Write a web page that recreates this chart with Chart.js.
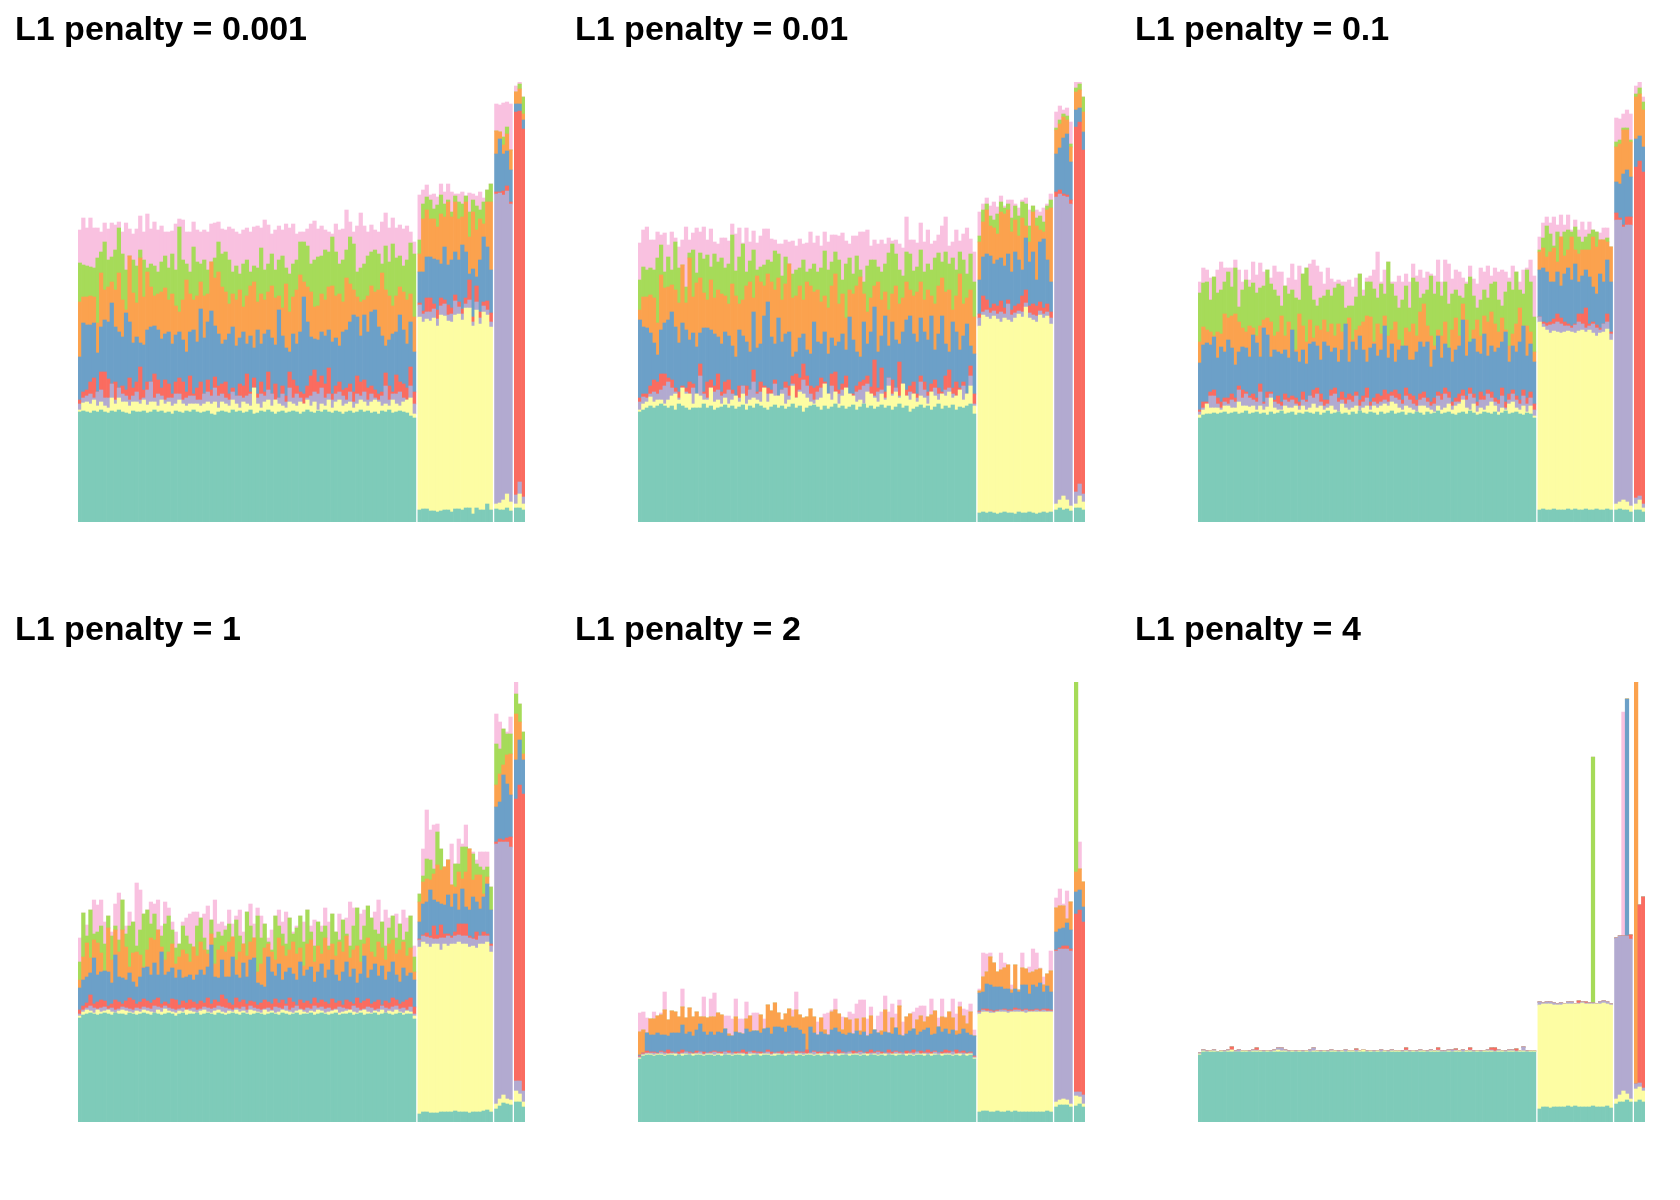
<!DOCTYPE html>
<html>
<head>
<meta charset="utf-8">
<title>L1 penalty</title>
<script src="https://cdn.jsdelivr.net/npm/chart.js@4"></script>
<style>
  body { margin: 0; background: #fff; }
  #grid { display: flex; flex-wrap: wrap; width: 1680px; }
  canvas { display: block; }
</style>
</head>
<body>
<div id="grid"></div>
<script>
const none = (n) => Array(n).fill(null);

const titles = ['L1 penalty = 0.001', 'L1 penalty = 0.01', 'L1 penalty = 0.1', 'L1 penalty = 1', 'L1 penalty = 2', 'L1 penalty = 4'];
const groupSizes = [95, 21, 5, 3];
const layerNames = ['teal', 'yellow', 'purple', 'red', 'blue', 'orange', 'green', 'pink'];
const layerColors = ['#7ECBB9', '#FDFDA3', '#B2AAD0', '#FA6C60', '#6CA0C8', '#FBA24E', '#A6DB59', '#F9C1E0'];

// upper edge of every layer, bar by bar (rows of 20, then the 3 small groups)
const teal1 = [110,111,110,109,111,110,112,110,109,111,110,112,110,109,108,111,110,110,111,109,
110,112,110,111,109,110,108,111,110,109,111,110,112,110,109,110,111,108,107,110,
111,110,109,112,110,111,109,110,112,108,109,111,110,112,110,108,110,111,109,110,
111,110,108,110,112,110,109,111,110,112,110,109,111,110,108,110,111,109,110,112,
110,111,109,110,108,111,110,112,109,110,111,110,109,106,104,
12,13,13,11,11,10,11,12,12,10,13,13,12,14,14,8,14,12,12,18,12,
13,12,12,14,11,
14,14,12];
const yellow1 = [112,119,120,118,122,116,120,116,114,124,118,124,120,120,116,120,120,118,122,117,
120,120,116,122,118,120,116,118,122,118,116,118,118,118,116,118,120,118,120,114,
120,118,116,122,118,114,120,118,116,134,118,114,120,122,116,122,118,116,114,120,
118,116,120,118,122,116,120,112,118,116,122,114,120,122,116,118,120,114,118,122,
120,116,120,122,120,116,118,116,122,118,116,120,122,124,108,
205,200,203,201,204,196,207,206,201,200,207,208,202,214,214,196,212,198,210,207,195,
18,19,22,28,20,
18,28,18];
const purple1 = [118,124,126,128,124,130,132,124,124,138,122,134,128,126,122,126,130,122,124,132,
140,124,128,126,122,124,124,128,128,122,124,126,126,122,122,128,130,126,134,126,
128,124,122,130,126,126,124,126,128,132,124,128,126,132,128,122,124,128,120,134,
124,128,124,118,124,126,130,128,134,124,128,122,128,130,126,122,130,120,128,126,
130,122,128,124,122,126,136,122,128,128,130,124,122,136,118,
217,208,210,210,213,203,216,218,207,208,221,215,208,218,222,200,220,204,216,212,200,
328,329,327,331,318,
27,40,25];
const red1 = [122,130,132,140,144,130,150,150,143,130,140,124,136,132,144,134,140,155,132,140,
130,148,142,134,142,138,128,140,144,140,130,146,128,134,140,118,142,132,145,136,
138,140,128,134,126,138,136,148,130,144,128,140,130,150,122,138,124,136,126,150,
142,136,130,128,136,146,152,140,146,138,154,128,136,140,132,134,138,130,146,140,
142,134,136,132,128,130,149,136,130,147,140,138,134,155,130,
219,211,224,224,218,212,224,222,217,214,227,220,213,224,242,205,236,210,220,221,209,
330,330,331,336,320,
410,411,393];
const blue1 = [165,199,197,197,199,169,195,202,200,219,195,190,185,209,200,179,185,179,177,192,
195,196,192,183,188,190,178,187,190,182,170,190,192,180,213,184,200,211,196,188,
178,182,188,195,176,184,190,178,186,174,192,178,188,192,184,177,212,186,174,170,
188,178,190,225,200,185,183,182,190,186,192,180,184,176,190,192,200,207,205,186,
207,190,210,212,195,186,176,182,188,190,207,192,178,200,170,
250,250,265,265,263,262,258,275,257,262,270,262,277,270,248,253,245,262,285,275,252,
368,383,368,371,352,
418,418,402];
const orange1 = [220,225,225,226,225,199,249,232,235,240,232,249,222,212,266,229,219,264,225,250,
235,226,228,230,234,222,228,216,210,222,242,228,222,226,240,226,228,260,244,250,
235,230,218,228,222,232,215,226,236,240,220,228,222,230,236,224,226,214,238,210,
225,232,247,240,235,230,215,216,228,222,235,236,226,228,220,244,238,232,225,220,
222,226,236,230,232,249,232,226,216,226,235,230,222,228,205,
268,303,312,303,303,295,308,305,320,305,320,303,305,320,285,310,292,303,298,320,320,
391,390,377,388,372,
430,433,408];
const green1 = [259,257,256,255,254,264,270,280,262,265,272,294,268,252,258,262,256,272,262,254,
258,256,250,260,266,254,268,252,295,262,258,250,275,260,258,262,252,256,264,280,
268,270,262,250,256,248,258,262,250,256,254,274,252,258,268,252,262,266,254,248,
258,262,280,280,276,258,262,265,266,272,270,285,270,258,262,272,285,278,250,254,
258,266,270,272,268,258,276,260,278,264,266,256,262,279,268,
282,318,325,322,313,317,327,318,322,310,326,320,318,326,310,322,316,312,320,332,338,
391,390,385,395,372,
430,438,425];
const pink1 = [292,304,294,304,294,294,290,299,293,299,297,300,290,299,293,288,293,306,290,308,
293,300,292,296,290,290,291,298,303,302,290,290,300,292,290,292,290,298,299,300,
293,292,295,293,290,288,292,294,290,295,296,294,302,297,288,292,296,292,298,294,
298,288,290,290,293,298,301,293,296,292,290,288,298,292,293,312,300,290,296,309,
296,290,297,292,290,300,309,294,304,294,297,293,296,290,280,
327,332,337,327,328,325,338,330,338,330,328,328,330,326,329,328,326,330,324,332,338,
418,417,419,420,418,
436,440,425];

const teal2 = [110,112,114,116,114,116,118,116,114,116,112,118,116,114,112,114,114,114,118,114,
116,112,114,115,117,114,116,113,115,117,112,116,114,118,116,114,112,115,117,114,
116,113,115,118,114,116,110,114,116,117,115,112,116,113,115,118,114,116,113,115,
117,112,115,118,114,116,113,115,117,114,116,112,115,118,114,116,110,113,115,117,
114,116,112,115,118,113,116,114,117,112,115,114,116,118,108,
9,10,9,10,9,8,9,10,9,9,8,10,9,9,10,9,8,9,10,9,10,
12,14,12,13,11,
14,14,12];
const yellow2 = [112,118,120,125,120,122,122,118,122,126,128,122,134,128,128,118,128,126,122,122,
134,120,122,118,124,118,122,126,120,128,118,122,124,122,120,134,120,128,126,126,
128,118,122,136,124,130,128,124,120,118,122,124,138,128,122,130,118,126,134,128,
126,120,122,118,130,128,124,120,128,122,136,126,130,124,138,126,122,128,120,126,
124,118,130,126,122,128,126,130,124,126,132,122,128,136,116,
196,207,205,203,206,203,200,204,202,200,204,208,205,215,204,202,200,207,204,206,198,
18,22,26,22,16,
18,26,20];
const purple2 = [120,125,124,128,130,128,132,136,140,134,130,124,126,130,128,134,122,146,128,124,
126,130,132,126,128,132,128,122,124,136,126,132,140,128,130,134,128,124,138,122,
132,134,126,138,124,132,142,136,128,122,130,134,126,124,136,130,128,132,134,126,
122,130,132,136,138,128,126,130,132,124,144,128,134,126,136,122,130,128,124,140,
132,126,130,134,128,124,132,134,128,126,130,136,126,146,118,
204,210,212,209,211,208,210,208,218,207,209,211,210,219,209,207,206,211,208,210,204,
325,328,326,325,318,
30,38,28];
const red2 = [124,128,128,136,142,140,148,148,144,142,134,130,136,134,140,138,124,158,130,140,
142,136,148,130,140,142,132,124,136,128,136,132,152,130,140,136,134,132,142,126,
130,140,136,146,148,144,158,146,136,134,136,144,140,128,148,150,132,138,146,128,
128,136,140,142,146,135,162,134,154,130,138,142,134,160,134,132,136,140,128,146,
140,130,138,142,134,130,146,152,134,140,134,140,128,156,128,
208,226,222,214,218,216,221,214,222,212,216,218,226,232,216,218,216,220,214,218,210,
330,332,328,327,322,
395,400,372];
const blue2 = [202,195,194,189,179,167,192,199,202,210,195,179,199,192,182,189,175,189,194,194,
192,188,185,178,190,186,176,165,192,186,180,170,210,174,178,206,220,185,178,204,
180,188,190,165,170,184,188,172,168,200,180,178,190,168,184,176,180,188,172,205,
182,170,165,200,178,190,215,170,186,206,176,200,182,178,190,202,206,188,180,204,
190,182,206,172,188,206,178,170,200,190,172,186,198,176,168,
242,265,268,266,258,262,264,256,268,250,270,262,252,284,260,270,242,280,283,262,240,
368,374,384,388,360,
412,414,390];
const orange2 = [212,225,225,227,224,199,247,234,235,237,232,219,257,219,264,225,239,244,229,222,
242,224,232,228,226,218,238,226,218,222,236,240,224,246,240,236,248,240,232,244,
222,238,258,224,226,236,222,240,236,230,232,220,226,214,236,248,218,228,204,232,
228,236,245,228,210,224,236,240,222,230,212,228,236,218,224,240,232,226,230,240,
222,232,226,218,236,244,230,232,212,226,248,218,224,232,205,
280,300,312,296,294,288,310,308,312,290,302,286,304,296,280,310,296,292,290,312,314,
392,398,405,402,375,
430,432,410];
const green2 = [242,255,252,254,252,264,277,250,265,252,280,254,254,235,269,272,249,269,263,267,
255,268,260,264,254,258,287,251,265,278,250,261,272,252,255,257,262,260,271,268,
246,265,256,248,252,254,262,250,253,258,250,254,271,252,260,270,262,242,258,264,
248,266,252,240,256,262,262,255,250,258,269,278,268,252,246,270,268,251,255,272,
250,258,252,264,269,260,270,258,264,252,270,262,248,268,240,
286,312,318,306,302,308,320,314,318,304,316,306,320,318,296,316,304,306,300,316,322,
394,402,408,406,378,
434,438,425];
const pink2 = [279,292,295,282,282,290,287,289,277,290,284,275,282,295,282,289,294,290,295,282,
293,280,278,284,284,281,298,288,294,279,294,280,291,279,286,293,293,283,282,278,
278,282,280,281,276,283,278,279,290,279,286,276,290,280,287,287,286,289,281,278,
286,286,290,290,292,276,282,278,282,278,284,281,282,278,274,305,282,282,279,299,
280,292,278,281,287,296,305,276,280,292,281,288,294,283,270,
310,318,324,316,320,315,326,316,322,322,318,314,322,324,312,316,312,310,314,318,328,
410,416,412,414,400,
440,440,425];

const teal3 = [104,107,108,108,109,108,109,110,108,109,110,108,109,111,108,109,110,108,109,107,
110,108,109,111,108,109,110,107,109,108,110,109,108,110,107,109,111,108,109,110,
108,109,107,110,108,111,109,108,110,109,107,110,108,109,111,108,109,110,107,109,
108,110,109,107,110,108,109,111,108,109,110,108,107,109,110,108,111,109,107,108,
110,109,108,110,107,109,111,108,109,110,108,107,109,108,104,
12,13,12,12,13,12,12,12,13,12,13,12,12,13,12,12,13,12,12,13,12,
12,13,12,12,10,
12,12,10];
const yellow3 = [107,112,118,114,114,114,112,116,116,114,114,120,116,116,115,116,112,116,112,115,
124,114,112,112,116,114,114,116,112,116,112,114,118,114,116,112,114,116,112,110,
118,114,112,114,116,110,114,116,112,116,114,116,118,116,120,118,114,112,116,114,
112,110,116,116,114,112,110,116,112,114,118,112,116,118,122,114,112,118,110,114,
112,116,120,116,110,114,112,118,120,114,112,116,110,116,106,
200,195,192,189,191,190,189,190,191,190,189,191,192,190,192,189,186,189,190,193,182,
18,20,22,20,16,
18,22,14];
const purple3 = [110,114,116,126,126,118,114,120,118,122,120,132,124,128,124,122,120,130,118,124,
128,120,118,116,122,120,122,118,116,122,120,126,124,128,120,116,118,126,128,120,
122,118,122,120,126,116,120,124,116,120,118,120,122,120,126,124,122,118,126,122,
118,116,122,124,120,116,118,126,122,128,124,116,120,120,126,122,128,124,116,122,
122,128,124,120,118,126,114,122,128,122,118,126,118,124,112,
205,198,196,197,198,200,198,196,196,194,197,200,198,194,196,198,194,192,198,200,188,
302,302,295,297,297,
24,26,18];
const red3 = [112,120,120,130,132,124,120,124,124,128,124,136,132,130,126,128,124,138,120,130,
130,122,126,120,128,124,126,124,120,130,122,126,132,134,128,122,122,132,134,124,
130,124,128,126,130,122,126,134,120,124,128,126,132,128,130,132,128,122,134,128,
126,122,128,130,124,120,124,130,128,134,130,120,124,128,132,126,134,128,120,130,
126,132,130,124,122,134,120,128,132,126,122,132,124,130,118,
205,200,199,200,203,208,204,200,198,196,198,208,208,214,198,200,197,194,197,208,190,
309,304,297,305,305,
355,361,350];
const blue3 = [159,177,179,177,185,164,175,170,182,174,157,170,175,174,165,187,179,165,194,187,
165,172,170,168,172,164,192,170,160,172,158,178,180,176,162,180,176,170,174,160,
172,198,160,180,172,186,172,160,174,178,166,172,196,164,178,160,172,176,176,162,
162,170,180,175,180,155,172,186,164,178,174,160,172,176,202,166,180,183,170,168,
188,166,176,170,174,180,190,160,176,170,180,196,166,178,160,
252,254,250,240,240,250,236,248,254,242,258,240,246,252,245,235,228,248,240,262,240,
340,338,348,352,345,
383,386,375];
const orange3 = [180,195,192,190,186,190,188,208,204,206,208,200,194,190,196,194,186,196,202,204,
200,186,190,206,186,200,190,172,208,196,180,202,184,196,192,202,190,198,186,198,
190,186,204,182,192,196,200,206,205,180,198,188,206,186,192,200,182,176,194,190,
198,186,210,218,196,186,176,192,186,200,172,192,204,186,218,202,178,192,202,186,
206,200,210,198,190,204,192,176,188,198,214,186,196,190,170,
270,274,265,270,274,260,285,266,272,285,272,268,272,272,272,285,275,282,282,280,275,
375,378,392,392,380,
425,428,412];
const green3 = [229,239,240,222,245,229,232,240,250,235,254,215,232,242,235,239,229,234,236,252,
238,232,226,216,236,228,232,224,222,248,254,236,222,216,224,226,232,226,234,238,
236,214,216,216,225,248,226,240,240,233,224,238,228,260,238,226,214,222,236,214,
244,240,224,228,232,246,228,240,226,240,218,228,232,226,224,238,245,226,214,222,
232,224,238,240,222,216,230,240,232,250,232,228,252,240,205,
272,284,296,288,276,290,285,290,292,290,295,285,280,285,288,292,290,278,275,284,275,
380,382,394,394,382,
428,434,420];
const pink3 = [240,254,252,244,244,252,260,254,254,254,262,252,240,252,242,260,247,259,250,250,
244,256,250,250,236,244,258,242,256,248,238,258,262,256,250,238,254,243,240,242,
240,240,242,235,244,238,232,244,246,252,270,240,252,244,240,240,246,240,248,240,
258,246,252,244,250,248,246,262,240,262,258,243,252,250,244,240,256,243,238,254,
250,256,246,254,250,252,250,244,256,250,240,252,254,262,246,
285,299,305,299,305,297,307,297,307,292,302,292,300,292,300,289,290,289,294,294,275,
404,403,408,412,408,
436,440,425];

const teal4 = [104,107,108,109,108,107,108,109,108,107,109,108,108,107,109,108,107,108,109,108,
107,109,108,107,108,109,108,106,108,109,107,108,108,109,107,108,109,108,107,109,
108,107,108,109,108,107,109,108,107,108,109,108,107,108,109,108,107,109,108,107,
108,109,107,108,108,109,107,108,109,108,107,108,109,107,108,108,109,107,108,109,
107,108,108,109,107,108,109,108,107,108,109,107,108,108,103,
8,10,10,9,9,9,10,10,10,10,11,10,10,10,9,10,10,10,11,12,10,
13,16,19,18,17,
20,20,15];
const yellow4 = [106,110,112,111,109,112,110,111,112,110,109,111,112,111,110,109,111,110,112,111,
110,109,112,110,113,111,110,109,111,110,112,111,110,109,111,112,110,109,111,112,
110,109,111,110,112,110,111,109,112,111,110,109,112,110,111,109,110,112,111,110,
109,111,112,110,109,111,110,112,111,109,110,111,112,109,110,111,112,110,109,111,
112,110,109,111,110,112,109,111,110,112,110,109,111,110,106,
175,180,178,175,178,178,172,178,176,178,178,180,178,178,175,176,174,178,178,180,170,
18,23,27,23,22,
31,28,20];
const purple4 = [108,112,114,116,114,113,114,115,113,114,112,113,115,114,113,112,114,113,115,114,
113,116,115,114,116,114,113,112,113,114,112,113,114,112,113,115,114,113,114,116,
115,114,113,112,114,113,115,112,116,114,113,112,113,114,112,115,114,113,116,112,
114,116,113,112,114,113,116,114,115,113,114,112,113,115,114,113,112,116,114,112,
113,115,114,112,113,116,114,113,115,116,113,114,112,115,108,
182,186,185,184,183,183,184,184,186,184,186,187,186,186,184,183,182,186,186,186,176,
278,280,280,280,275,
41,41,31];
const red4 = [112,116,119,127,118,120,122,121,116,118,122,120,118,121,124,122,118,120,123,121,
119,122,124,118,120,118,123,122,117,121,119,122,120,118,121,119,124,118,122,120,
127,123,119,117,124,120,122,118,121,120,117,119,122,120,118,123,119,122,118,124,
120,117,122,119,121,118,124,119,122,120,118,123,119,121,117,122,120,118,124,119,
121,123,118,120,122,117,121,119,124,122,118,120,122,124,115,
183,187,189,186,196,187,197,188,188,186,190,198,198,198,186,184,190,186,190,188,178,
280,283,282,284,285,
323,337,328];
const blue4 = [134,142,145,149,164,147,150,151,150,139,167,145,144,142,149,140,135,145,154,155,
147,159,147,170,147,150,154,144,152,144,145,147,142,147,152,147,155,177,145,144,
162,145,145,165,147,144,159,145,162,164,139,137,135,165,150,146,158,142,150,154,
148,142,160,146,152,155,140,150,158,144,152,162,147,141,150,160,145,153,139,148,
166,144,152,158,146,156,142,150,160,147,140,154,146,149,142,
200,218,220,232,222,220,218,217,227,215,228,212,233,215,212,225,220,213,225,238,212,
315,320,347,338,327,
362,382,362];
const orange4 = [142,165,179,164,182,179,169,149,194,162,192,170,192,175,155,169,170,167,155,172,
184,182,192,175,162,170,178,158,165,172,168,160,175,166,180,172,168,188,158,172,
176,170,180,185,162,170,178,166,180,184,150,158,174,178,170,162,184,176,166,172,
180,168,174,156,178,182,160,176,168,184,172,178,166,180,170,186,164,172,176,160,
178,184,170,165,180,174,162,178,182,168,172,180,166,174,150,
220,240,243,242,248,257,252,255,262,237,235,250,243,250,273,242,247,247,228,245,212,
337,348,357,367,368,
408,400,368];
const green4 = [160,209,186,212,188,190,196,178,206,186,196,182,222,188,196,200,176,192,208,212,
198,208,190,186,198,206,192,174,178,196,186,178,170,196,204,184,172,202,184,190,
186,192,198,182,202,186,170,210,196,176,206,184,198,180,172,206,196,188,178,204,
188,194,206,180,212,190,176,200,190,196,176,208,190,182,202,188,176,196,214,182,
196,216,204,192,188,200,176,194,206,184,198,182,190,206,165,
228,246,263,262,253,290,273,255,262,235,258,258,275,275,273,268,258,255,252,255,235,
378,373,393,388,388,
428,418,390];
const pink4 = [184,209,197,196,222,217,222,200,206,190,218,229,222,196,210,200,239,232,208,212,
220,218,222,196,220,214,200,190,178,200,204,208,210,210,204,208,216,202,222,198,
200,196,212,198,206,212,190,210,218,198,214,206,198,184,192,206,212,200,210,204,
190,196,206,200,212,196,202,200,196,214,200,208,190,208,202,204,220,214,214,208,
212,216,204,210,222,200,212,204,206,208,198,212,204,206,176,
228,273,312,292,297,298,273,255,262,278,258,283,278,297,273,270,262,270,270,270,235,
408,400,393,390,405,
440,418,390];

const teal5 = [63,66,67,67,66,67,67,66,67,67,66,67,66,67,67,66,67,67,66,67,
67,66,67,66,67,67,66,67,67,66,67,66,67,67,66,67,67,66,66,67,
67,66,67,67,66,67,66,67,67,66,67,66,67,67,66,67,66,67,67,66,
67,67,66,67,66,67,67,66,67,66,67,67,66,67,67,66,67,66,67,67,
66,67,66,67,67,66,67,67,66,67,66,67,66,67,63,
10,11,11,10,10,11,10,10,11,10,11,10,10,10,10,10,10,10,10,11,10,
15,17,17,17,15,
16,18,15];
const yellow5 = [64,67,68,68,67,68,68,67,68,68,68,67,68,68,67,68,68,68,67,68,
68,67,68,68,67,68,67,68,68,68,67,68,68,67,68,68,68,67,68,68,
67,68,68,67,68,68,67,68,68,67,68,68,68,67,68,67,68,68,67,68,
68,68,67,68,68,67,68,67,68,68,67,68,68,68,67,68,68,67,68,68,
68,67,68,68,67,68,68,68,67,68,68,67,68,68,64,
108,110,110,109,109,110,110,110,109,110,110,110,110,109,110,110,110,110,110,110,110,
20,22,23,22,18,
26,25,18];
const purple5 = [65,68,69,69,69,68,70,69,68,69,69,68,69,70,69,68,69,70,68,69,
69,70,69,68,70,69,69,68,69,69,68,70,69,69,68,69,70,68,69,69,
68,69,69,70,68,69,69,68,69,70,68,69,69,68,70,69,68,69,69,70,
68,69,70,69,68,69,69,70,68,69,69,68,70,69,69,68,69,69,70,68,
69,69,68,70,69,68,69,69,70,68,69,69,68,69,65,
110,112,111,111,110,111,112,112,111,111,112,112,111,112,111,111,112,111,112,111,111,
171,173,173,173,171,
30,30,27];
const red5 = [66,69,71,70,70,69,71,70,72,70,69,70,72,69,70,69,71,70,70,69,
70,71,70,70,69,71,69,70,70,72,70,69,71,70,70,69,72,70,69,70,
71,69,70,70,71,70,70,72,69,71,70,70,69,70,71,70,72,70,69,70,
71,70,71,69,70,72,70,71,70,69,72,70,71,70,69,71,70,72,69,71,
70,72,70,71,69,70,72,71,69,72,70,71,69,70,66,
111,113,113,112,111,112,112,113,112,112,114,113,112,113,112,112,113,112,113,113,112,
172,174,176,176,173,
208,212,200];
const blue5 = [67,67,89,87,87,89,87,87,86,89,89,89,97,88,90,86,92,98,90,87,
90,87,90,89,93,86,86,90,89,88,93,90,91,91,89,93,94,88,95,95,
94,90,96,94,94,92,88,67,95,89,87,90,88,87,92,94,90,88,87,89,
88,91,87,90,86,88,92,89,87,90,89,88,94,87,86,88,91,93,87,90,
92,94,87,88,95,90,93,88,92,87,88,93,89,87,86,
129,130,138,137,135,135,135,133,133,129,133,130,137,137,128,137,135,139,130,136,130,
190,193,194,199,192,
230,232,215];
const orange5 = [90,92,89,103,103,106,107,112,102,111,110,105,115,104,114,105,110,105,105,104,
105,105,109,107,93,88,86,105,89,88,103,106,91,91,107,93,117,111,119,109,
102,108,113,105,112,107,104,105,113,105,87,104,92,87,110,112,108,92,104,102,
88,103,91,104,86,106,87,88,91,112,89,104,94,116,86,105,108,93,102,106,
100,105,107,111,92,105,104,110,104,91,115,106,98,110,86,
131,145,150,165,159,150,152,154,157,132,157,132,154,153,149,150,152,153,137,148,151,
214,216,216,203,220,
250,253,240];
const green5 = [...none(121),440,...none(2)];
const pink5 = [109,110,104,103,110,106,109,130,102,111,110,105,133,104,114,105,110,105,125,104,
123,129,109,107,106,106,103,123,103,103,120,106,109,109,107,103,117,111,119,109,
102,108,113,112,130,107,104,105,113,105,100,104,108,109,112,123,108,105,104,110,
108,118,122,122,103,115,87,106,110,126,110,118,108,122,100,105,108,110,114,116,
116,105,123,111,104,123,105,110,123,108,120,113,112,118,92,
133,169,168,169,159,150,169,159,157,137,157,132,169,153,155,173,169,154,145,148,171,
224,233,218,231,220,
null,280,240];

const teal6 = [67,70,70,70,70,70,70,70,70,70,70,70,70,70,70,70,70,70,70,70,
70,70,70,70,70,70,70,70,70,70,70,70,70,70,70,70,70,70,70,70,
70,70,70,70,70,70,70,70,70,70,70,70,70,70,70,70,70,70,70,70,
70,70,70,70,70,70,70,70,70,70,70,70,70,70,70,70,70,70,70,70,
70,70,70,70,70,70,70,70,70,70,70,70,70,70,70,
13,15,15,14,15,15,15,15,16,15,16,15,15,15,15,16,15,15,15,16,14,
18,20,20,22,20,
20,22,20];
const yellow6 = [68,71,70,71,71,70,71,70,71,72,70,70,71,71,70,71,71,71,70,71,
70,71,72,71,71,70,71,70,71,70,71,70,71,71,70,71,70,71,71,70,
71,70,71,71,70,71,72,70,71,70,71,70,71,70,71,71,71,70,71,70,
71,70,71,71,70,71,71,71,70,70,71,70,71,71,70,71,71,70,71,70,
71,71,71,70,71,71,70,71,71,70,71,71,70,71,71,
117,118,118,118,117,117,117,118,118,118,118,118,119,118,118,118,118,118,119,118,117,
23,27,31,28,23,
33,35,31];
const purple6 = [69,72,71,71,72,70,71,71,72,72,71,72,71,71,71,72,72,71,71,71,
71,72,74,74,72,71,71,71,71,71,71,72,74,71,71,71,71,72,71,71,
71,72,71,71,72,71,72,71,71,71,71,72,71,71,72,71,71,71,72,71,
71,71,72,71,71,72,71,72,71,71,72,72,72,71,72,71,72,71,71,71,
71,72,72,71,72,71,71,72,72,71,71,75,71,71,71,
120,119,120,120,119,118,119,118,120,120,118,119,120,119,119,119,118,120,121,120,118,
184,186,186,186,183,
38,39,34];
const red6 = [...none(9),75,...none(6),74,...none(27),73,...none(13),74,...none(8),74,...none(4),73,...none(3),74,...none(5),74,74,...none(5),73,...none(6),
...none(10),121,null,120,...none(8),
...none(3),187,null,
217,225,220];
const blue6 = [...none(119),423,...none(4)];
const orange6 = [...none(121),440,...none(2)];
const green6 = [...none(110),365,...none(13)];
const pink6 = [...none(118),410,...none(5)];

const panelLayers = [
  [teal1, yellow1, purple1, red1, blue1, orange1, green1, pink1],
  [teal2, yellow2, purple2, red2, blue2, orange2, green2, pink2],
  [teal3, yellow3, purple3, red3, blue3, orange3, green3, pink3],
  [teal4, yellow4, purple4, red4, blue4, orange4, green4, pink4],
  [teal5, yellow5, purple5, red5, blue5, orange5, green5, pink5],
  [teal6, yellow6, purple6, red6, blue6, orange6, green6, pink6],
];

// bar centres: one unit per bar, with a narrow gap between the groups
const GROUP_GAP = 0.56;
const xAt = [];
let xPos = 0;
groupSizes.forEach((n) => {
  for (let i = 0; i < n; i++) xAt.push(xPos++);
  xPos += GROUP_GAP;
});
const xMax = xAt[xAt.length - 1] + 0.5;

// edges -> thickness of each layer for the stack
function thicknesses(layers) {
  const out = layers.map(() => []);
  xAt.forEach((_, i) => {
    let floor = 0;
    layers.forEach((tops, l) => {
      const t = tops[i];
      out[l].push(t == null ? 0 : Math.max(0, t - floor));
      if (t != null) floor = Math.max(floor, t);
    });
  });
  return out;
}

const grid = document.getElementById('grid');
titles.forEach((title, p) => {
  const canvas = document.createElement('canvas');
  canvas.width = 560;
  canvas.height = 600;
  canvas.style.width = '560px';
  canvas.style.height = '600px';
  grid.appendChild(canvas);
  const heights = thicknesses(panelLayers[p]);
  new Chart(canvas.getContext('2d'), {
    type: 'bar',
    data: {
      datasets: layerNames.map((name, l) => ({
        label: name,
        stack: 'all',
        data: heights[l].map((v, i) => ({ x: xAt[i], y: v })),
        backgroundColor: layerColors[l],
        borderWidth: 0,
        barPercentage: 1,
        categoryPercentage: 1,
      })),
    },
    options: {
      responsive: false,
      animation: false,
      layout: { padding: { left: 15, right: 35, top: 0, bottom: 78 } },
      plugins: {
        legend: { display: false },
        tooltip: { enabled: false },
        title: {
          display: true,
          text: title,
          align: 'start',
          color: '#000',
          font: { family: "'Liberation Sans', Arial, sans-serif", size: 34, weight: 'bold', lineHeight: 1.2 },
          padding: { top: 10, bottom: 31.2 },
        },
      },
      scales: {
        x: { type: 'linear', display: false, min: -0.5, max: xMax, offset: false, stacked: true },
        y: {
          min: 0, max: 440, stacked: true,
          grid: { display: false }, border: { display: false }, ticks: { display: false },
          afterFit: (s) => { s.width = 63; },
        },
      },
    },
  });
});
</script>
</body>
</html>
